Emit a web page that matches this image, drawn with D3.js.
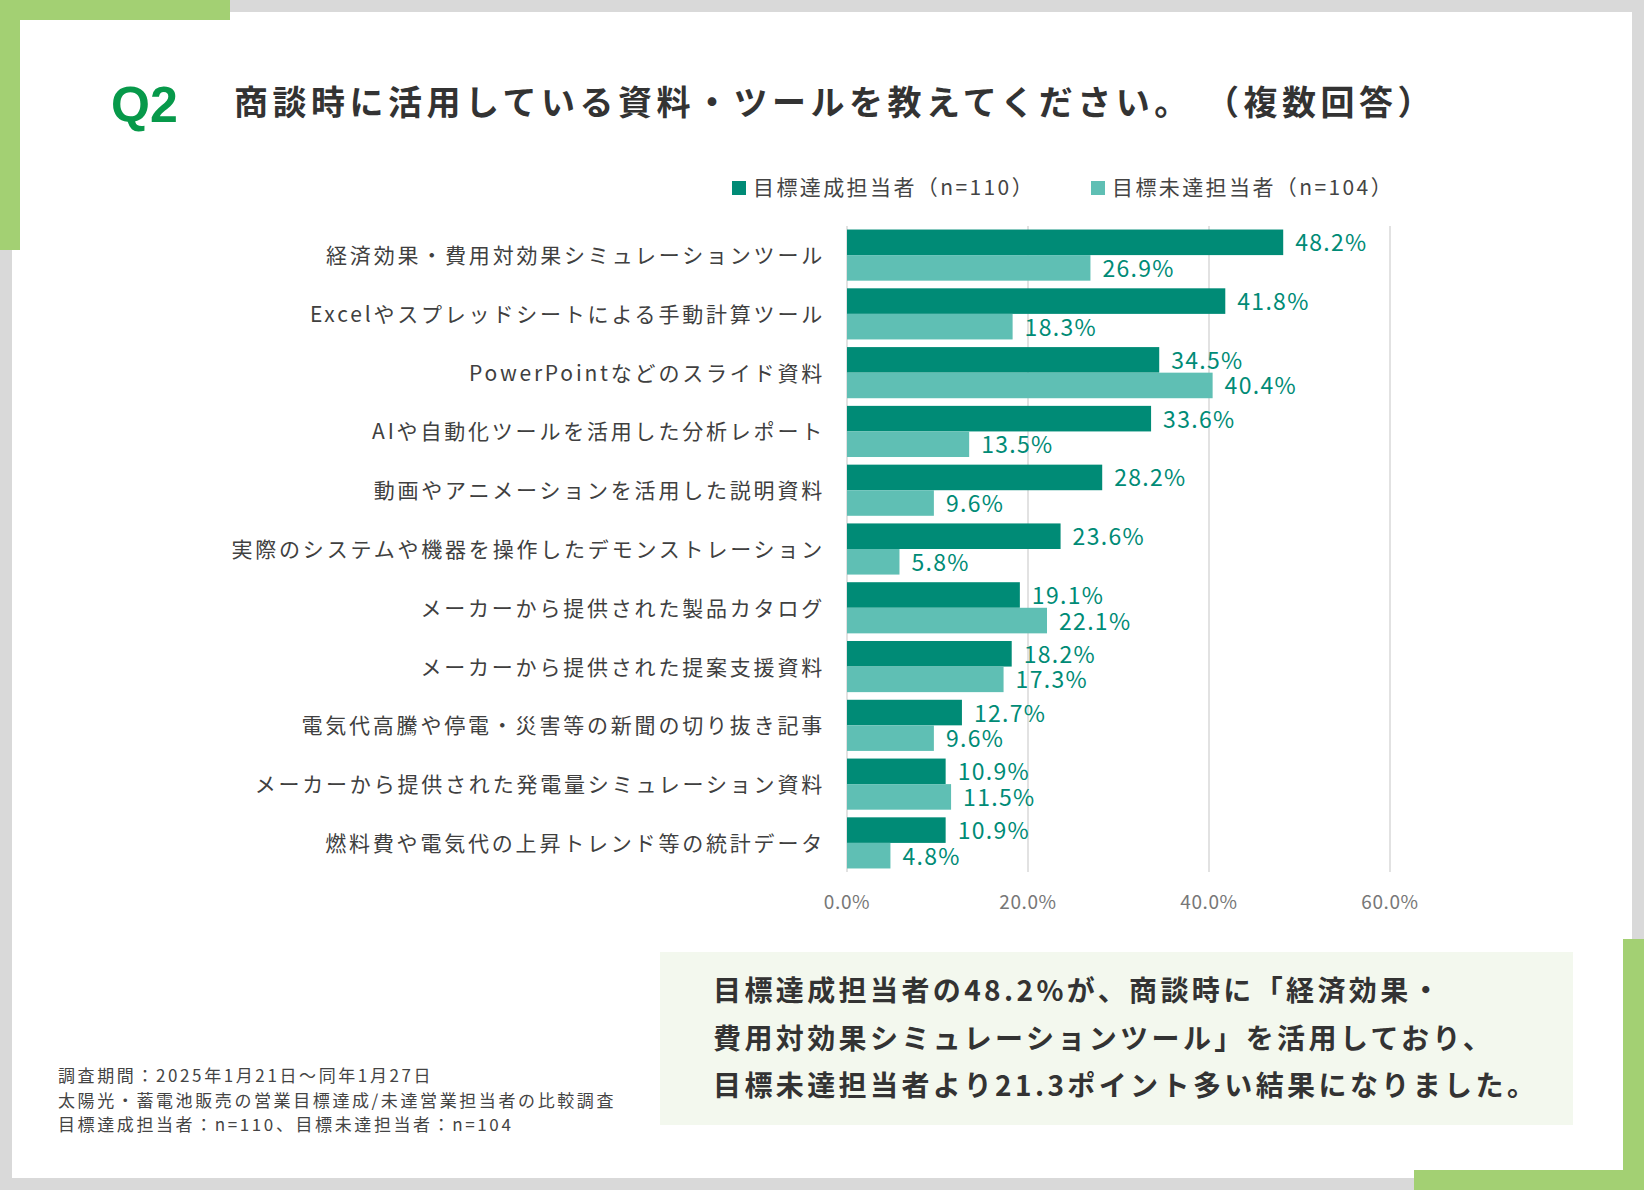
<!DOCTYPE html>
<html><head><meta charset="utf-8">
<script src="https://cdn.jsdelivr.net/npm/d3@7"></script>
<style>body{margin:0;background:#fff}text{font-family:"Noto Sans CJK JP","Noto Sans",sans-serif}</style>
</head><body><svg id="c" width="1644" height="1190"></svg>
<script>
const categories=["経済効果・費用対効果シミュレーションツール","Excelやスプレッドシートによる手動計算ツール","PowerPointなどのスライド資料","AIや自動化ツールを活用した分析レポート","動画やアニメーションを活用した説明資料","実際のシステムや機器を操作したデモンストレーション","メーカーから提供された製品カタログ","メーカーから提供された提案支援資料","電気代高騰や停電・災害等の新聞の切り抜き記事","メーカーから提供された発電量シミュレーション資料","燃料費や電気代の上昇トレンド等の統計データ"];
const achieved=[48.2,41.8,34.5,33.6,28.2,23.6,19.1,18.2,12.7,10.9,10.9];
const notAchieved=[26.9,18.3,40.4,13.5,9.6,5.8,22.1,17.3,9.6,11.5,4.8];
const seriesNames=["目標達成担当者（n=110）","目標未達担当者（n=104）"];
const ticks=[0,20,40,60];
const C1="#008b76",C2="#5fbfb4";
const svg=d3.select("#c");
svg.append("rect").attr("width",1644).attr("height",1190).attr("fill","#d9d9d9");
svg.append("rect").attr("x",12).attr("y",12).attr("width",1620).attr("height",1166).attr("fill","#fff");
const g="#a3d073";
svg.append("rect").attr("x",0).attr("y",0).attr("width",230).attr("height",20).attr("fill",g);
svg.append("rect").attr("x",0).attr("y",0).attr("width",20).attr("height",250).attr("fill",g);
svg.append("rect").attr("x",1623).attr("y",939).attr("width",21).attr("height",251).attr("fill",g);
svg.append("rect").attr("x",1414).attr("y",1170).attr("width",230).attr("height",20).attr("fill",g);
svg.append("text").attr("x",111).attr("y",122).attr("font-size",50).attr("font-weight","bold").attr("fill","#07994a").style("font-family","Liberation Sans,Arial").text("Q2");
svg.append("text").attr("x",234).attr("y",115).attr("font-size",34).attr("font-weight","bold").attr("fill","#333").attr("letter-spacing",4.5).attr("xml:space","preserve").text("商談時に活用している資料・ツールを教えてください。 （複数回答）");
// legend
[[732,753,C1,seriesNames[0]],[1091,1112,C2,seriesNames[1]]].forEach(([sx,tx,c,t])=>{
 svg.append("rect").attr("x",sx).attr("y",181).attr("width",14).attr("height",14).attr("fill",c);
 svg.append("text").attr("x",tx).attr("y",195).attr("font-size",21).attr("letter-spacing",2.4).attr("fill","#444").text(t);});
const x=d3.scaleLinear().domain([0,60]).range([847,1390]);
const y=d3.scaleBand().domain(categories).range([226,872]).paddingInner(0.13).paddingOuter(0.06);
ticks.forEach(t=>{svg.append("line").attr("x1",x(t)).attr("x2",x(t)).attr("y1",226).attr("y2",872).attr("stroke","#d9d9d9").attr("stroke-width",1.5);
 svg.append("text").attr("x",x(t)).attr("y",909).attr("text-anchor","middle").attr("font-size",19).attr("letter-spacing",0.6).attr("fill","#777").text(t.toFixed(1)+"%");});
const bh=y.bandwidth()/2;
categories.forEach((c,i)=>{
 const y0=y(c);
 svg.append("text").attr("x",825).attr("y",y0+bh+8).attr("text-anchor","end").attr("font-size",21).attr("letter-spacing",2.8).attr("fill","#404040").text(c);
 [[achieved[i],C1,0],[notAchieved[i],C2,1]].forEach(([v,col,k])=>{
  svg.append("text").attr("x",x(v)+12).attr("y",y0+k*bh+bh/2+9).attr("font-size",23).attr("letter-spacing",1.3).attr("fill","#008b76").text(v.toFixed(1)+"%");
  svg.append("rect").attr("x",x(0)).attr("y",y0+k*bh).attr("width",x(v)-x(0)).attr("height",bh).attr("fill",col);});
});
svg.append("rect").attr("x",660).attr("y",952).attr("width",913).attr("height",173).attr("fill","#f3f8ee");
["目標達成担当者の48.2%が、商談時に「経済効果・","費用対効果シミュレーションツール」を活用しており、","目標未達担当者より21.3ポイント多い結果になりました。"].forEach((t,i)=>
 svg.append("text").attr("x",713).attr("y",1001+i*47.5).attr("font-size",28).attr("font-weight","bold").attr("letter-spacing",3.4).attr("fill","#333").text(t));
["調査期間：2025年1月21日～同年1月27日","太陽光・蓄電池販売の営業目標達成/未達営業担当者の比較調査","目標達成担当者：n=110、目標未達担当者：n=104"].forEach((t,i)=>
 svg.append("text").attr("x",58).attr("y",1082+i*24.5).attr("font-size",17).attr("letter-spacing",2.6).attr("fill","#444").text(t));
</script></body></html>
